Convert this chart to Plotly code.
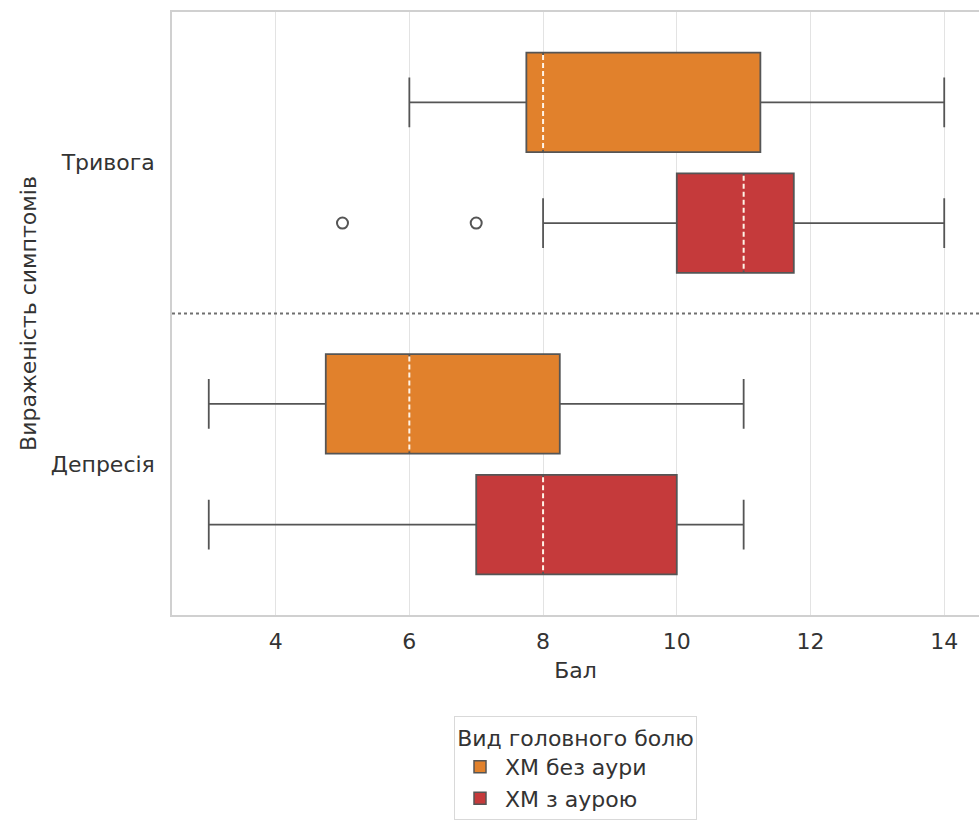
import plotly.graph_objects as go

# Symptom categories (top to bottom) and headache groups
categories = ["Тривога", "Депресія"]
groups = ["ХМ без аури", "ХМ з аурою"]
colors = ["#e1812c", "#c53a3b"]

# Five-number summaries per group, one value per category
lower_fence = {"ХМ без аури": [6, 3], "ХМ з аурою": [8, 3]}
q1_vals = {"ХМ без аури": [7.75, 4.75], "ХМ з аурою": [10, 7]}
median_vals = {"ХМ без аури": [8, 6], "ХМ з аурою": [11, 8]}
q3_vals = {"ХМ без аури": [11.25, 8.25], "ХМ з аурою": [11.75, 10]}
upper_fence = {"ХМ без аури": [14, 11], "ХМ з аурою": [14, 11]}

# Outliers: (category, value)
outliers = {"ХМ без аури": [], "ХМ з аурою": [("Тривога", 5), ("Тривога", 7)]}

x_ticks = [4, 6, 8, 10, 12, 14]

FONT = "DejaVu Sans, sans-serif"
EDGE = "#555555"
TEXT = "#333333"
FS = 22
dodge = 0.2
box_w = 0.33

cat_pos = {c: i for i, c in enumerate(categories)}

fig = go.Figure()

for gi, (g, col) in enumerate(zip(groups, colors)):
    off = -dodge if gi == 0 else dodge
    ys = [cat_pos[c] + off for c in categories]
    fig.add_trace(go.Box(
        orientation="h",
        y=ys,
        q1=q1_vals[g], median=median_vals[g], q3=q3_vals[g],
        lowerfence=lower_fence[g], upperfence=upper_fence[g],
        width=box_w, whiskerwidth=0.5,
        fillcolor=col, line=dict(color=EDGE, width=1.8),
        boxpoints=False, showlegend=False, hoverinfo="skip",
    ))
    # median marks: cover the solid median, then a white dashed line
    for i, y in enumerate(ys):
        m = median_vals[g][i]
        h = box_w / 2 - 0.008
        fig.add_trace(go.Scatter(x=[m, m], y=[y - h, y + h], mode="lines",
                                 line=dict(color=col, width=3),
                                 showlegend=False, hoverinfo="skip"))
        fig.add_trace(go.Scatter(x=[m, m], y=[y - h, y + h], mode="lines",
                                 line=dict(color="#fff3e6", width=2, dash="5px,3px"),
                                 showlegend=False, hoverinfo="skip"))
    if outliers[g]:
        fig.add_trace(go.Scatter(
            x=[v for _, v in outliers[g]],
            y=[cat_pos[c] + off for c, _ in outliers[g]],
            mode="markers",
            marker=dict(symbol="circle-open", size=11, color=EDGE,
                        line=dict(width=2, color=EDGE)),
            showlegend=False, hoverinfo="skip",
        ))
    # legend patch
    fig.add_trace(go.Bar(x=[None], y=[None], name=g, orientation="h",
                         marker=dict(color=col, line=dict(color=EDGE, width=1.5))))

# dotted separators between categories
for i in range(len(categories) - 1):
    fig.add_shape(type="line", xref="paper", x0=0, x1=1, y0=i + 0.5, y1=i + 0.5,
                  line=dict(color="#6f6f6f", width=2, dash="dot"))

fig.update_layout(
    width=979, height=825,
    margin=dict(l=172, r=0, t=12, b=210),
    paper_bgcolor="white", plot_bgcolor="white",
    font=dict(family=FONT, size=FS, color=TEXT),
    showlegend=True,
    legend=dict(
        title=dict(text="Вид головного болю", side="top center",
                   font=dict(size=FS, color=TEXT)),
        x=0.5, xanchor="center", y=-0.168, yanchor="top",
        bordercolor="#d9d9d9", borderwidth=1, bgcolor="white",
        font=dict(size=FS, color=TEXT), itemwidth=40,
    ),
)

fig.update_xaxes(
    range=[2.45, 14.52], tickvals=x_ticks, ticktext=[str(t) for t in x_ticks],
    tickfont=dict(size=FS, color=TEXT),
    showgrid=True, gridcolor="#e3e3e3", gridwidth=1.2,
    showline=True, linecolor="#d0d0d0", linewidth=1.5, mirror=True,
    zeroline=False, ticks="", ticklabelstandoff=6,
    title=dict(text="Бал", standoff=9, font=dict(size=FS, color=TEXT)),
)
fig.update_yaxes(
    range=[1.5, -0.5], tickvals=list(range(len(categories))), ticktext=categories,
    tickfont=dict(size=FS, color=TEXT),
    showgrid=False, showline=True, linecolor="#d0d0d0", linewidth=1.5,
    zeroline=False, ticks="", ticklabelstandoff=11,
    title=dict(text="Вираженість симптомів", standoff=8, font=dict(size=FS, color=TEXT)),
)

fig.write_html("out.html")
